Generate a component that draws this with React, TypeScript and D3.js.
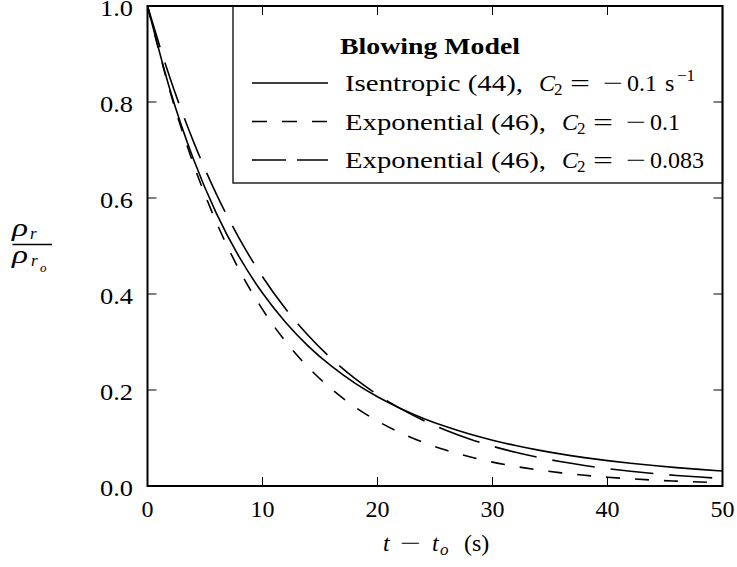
import React from 'react';
import * as d3 from 'd3';

const times = [0, 2, 4, 6, 8, 10, 12, 14, 16, 18, 20, 22, 24, 26, 28, 30, 32, 34, 36, 38, 40, 42, 44, 46, 48, 50];
const isentropic = [1, 0.8219, 0.6806, 0.5674, 0.4761, 0.4019, 0.3411, 0.291, 0.2495, 0.2149, 0.1859, 0.1615, 0.1408, 0.1232, 0.1082, 0.0954, 0.0843, 0.0747, 0.0664, 0.0592, 0.0529, 0.0474, 0.0426, 0.0383, 0.0346, 0.0313];
const expC2a = [1, 0.8187, 0.6703, 0.5488, 0.4493, 0.3679, 0.3012, 0.2466, 0.2019, 0.1653, 0.1353, 0.1108, 0.0907, 0.0743, 0.0608, 0.0498, 0.0408, 0.0334, 0.0273, 0.0224, 0.0183, 0.015, 0.0123, 0.0101, 0.0082, 0.0067];
const expC2b = [1, 0.847, 0.7175, 0.6077, 0.5148, 0.436, 0.3694, 0.3129, 0.265, 0.2245, 0.1901, 0.1611, 0.1364, 0.1156, 0.0979, 0.0829, 0.0702, 0.0595, 0.0504, 0.0427, 0.0362, 0.0306, 0.0259, 0.022, 0.0186, 0.0158];
const xTicks = [0, 10, 20, 30, 40, 50];
const yTicks = [0, 0.2, 0.4, 0.6, 0.8, 1.0];
const legendTitle = 'Blowing Model';
const legendNames = ['Isentropic (44),', 'Exponential (46),', 'Exponential (46),'];
const legendValues = ['0.1', '0.1', '0.083'];

const FONT = '"Liberation Serif", "Times New Roman", serif';

export default function App() {
  const W = 737, H = 567;
  const L = 147.5, R = 722.5, T = 6, B = 486;
  const x = d3.scaleLinear().domain([0, 50]).range([L, R]);
  const y = d3.scaleLinear().domain([0, 1]).range([B, T]);
  const line = d3.line<number>()
    .x((_, i) => x(times[i]))
    .y((d) => y(d))
    .curve(d3.curveMonotoneX);

  const series = [
    { vals: isentropic, dash: 'none', legDash: 'none' },
    { vals: expC2a, dash: '14,15', legDash: '15,15' },
    { vals: expC2b, dash: '43,16', legDash: '34,11' },
  ];

  const legL = 233, legB = 183;
  const rowY = [83, 121.5, 160];
  const rowBase = [91, 129.5, 168];
  const nameLen = [178, 201, 201];
  const hx0 = 252, hx1 = 328, tx = 345;
  const cX = [539, 562, 562];

  return (
    <svg width={W} height={H} style={{ position: 'absolute', left: 0, top: 0, background: '#fff' }} fontFamily={FONT}>
      <defs>
        <clipPath id="plot">
          <rect x={L} y={T} width={R - L} height={B - T} />
        </clipPath>
      </defs>
      <rect x={0} y={0} width={W} height={H} fill="#fff" />
      <g clipPath="url(#plot)">
        {series.map((s, i) => (
          <path key={i} d={line(s.vals) || ''} fill="none" stroke="#000" strokeWidth={1.6} strokeDasharray={s.dash} />
        ))}
      </g>
      {/* legend */}
      <rect x={legL} y={T} width={R - legL} height={legB - T} fill="#fff" stroke="#000" strokeWidth={1.3} />
      <text x={340} y={53.5} fontSize={24} fontWeight="bold" fill="#000" textLength={180} lengthAdjust="spacingAndGlyphs">{legendTitle}</text>
      {rowY.map((ry, i) => {
        const c = cX[i];
        const by = rowBase[i];
        return (
          <g key={i} fill="#000">
            <line x1={hx0} x2={hx1} y1={ry} y2={ry} stroke="#000" strokeWidth={1.6} strokeDasharray={series[i].legDash} />
            <text x={tx} y={by} fontSize={24} textLength={nameLen[i]} lengthAdjust="spacingAndGlyphs">{legendNames[i]}</text>
            <text x={c} y={by} fontSize={24} fontStyle="italic">C</text>
            <text x={c + 15} y={by + 4} fontSize={17}>2</text>
            <text x={c + 31} y={by} fontSize={24} textLength={20} lengthAdjust="spacingAndGlyphs">=</text>
            <text x={c + 64} y={by} fontSize={24} textLength={20} lengthAdjust="spacingAndGlyphs">{'\u2212'}</text>
            <text x={c + 88} y={by} fontSize={24}>{legendValues[i]}</text>
            {i === 0 ? (
              <>
                <text x={c + 126} y={by} fontSize={24}>s</text>
                <text x={c + 138} y={by - 10} fontSize={17}>{'\u22121'}</text>
              </>
            ) : null}
          </g>
        );
      })}
      {/* ticks */}
      {xTicks.map((t) => (
        <g key={'x' + t}>
          <line x1={x(t)} x2={x(t)} y1={B} y2={B - 9} stroke="#000" strokeWidth={1} />
          <line x1={x(t)} x2={x(t)} y1={T} y2={T + 9} stroke="#000" strokeWidth={1} />
          <text x={x(t)} y={517} fontSize={24} textAnchor="middle" fill="#000">{d3.format('d')(t)}</text>
        </g>
      ))}
      {yTicks.map((t) => (
        <g key={'y' + t}>
          <line x1={L} x2={L + 9} y1={y(t)} y2={y(t)} stroke="#000" strokeWidth={1} />
          <line x1={R} x2={R - 9} y1={y(t)} y2={y(t)} stroke="#000" strokeWidth={1} />
          <text x={133} y={y(t) + 10} fontSize={24} textAnchor="end" fill="#000" textLength={33} lengthAdjust="spacingAndGlyphs">{d3.format('.1f')(t)}</text>
        </g>
      ))}
      <rect x={L} y={T} width={R - L} height={B - T} fill="none" stroke="#000" strokeWidth={2} />
      {/* x label */}
      <g fill="#000">
        <text x={383} y={551} fontSize={24} fontStyle="italic">t</text>
        <text x={400} y={551} fontSize={24} textLength={21} lengthAdjust="spacingAndGlyphs">{'\u2212'}</text>
        <text x={432} y={551} fontSize={24} fontStyle="italic">t</text>
        <text x={440} y={555} fontSize={17} fontStyle="italic">o</text>
        <text x={464} y={551} fontSize={24}>(s)</text>
      </g>
      {/* y label */}
      <g fill="#000">
        <text x={12} y={236} fontSize={25} fontStyle="italic" textLength={16} lengthAdjust="spacingAndGlyphs">ρ</text>
        <text x={30} y={239} fontSize={17} fontStyle="italic">r</text>
        <line x1={12.5} x2={52} y1={244.5} y2={244.5} stroke="#000" strokeWidth={1.3} />
        <text x={12} y={263} fontSize={25} fontStyle="italic" textLength={16} lengthAdjust="spacingAndGlyphs">ρ</text>
        <text x={31} y={266} fontSize={17} fontStyle="italic">r</text>
        <text x={40} y={272} fontSize={13} fontStyle="italic">o</text>
      </g>
    </svg>
  );
}
